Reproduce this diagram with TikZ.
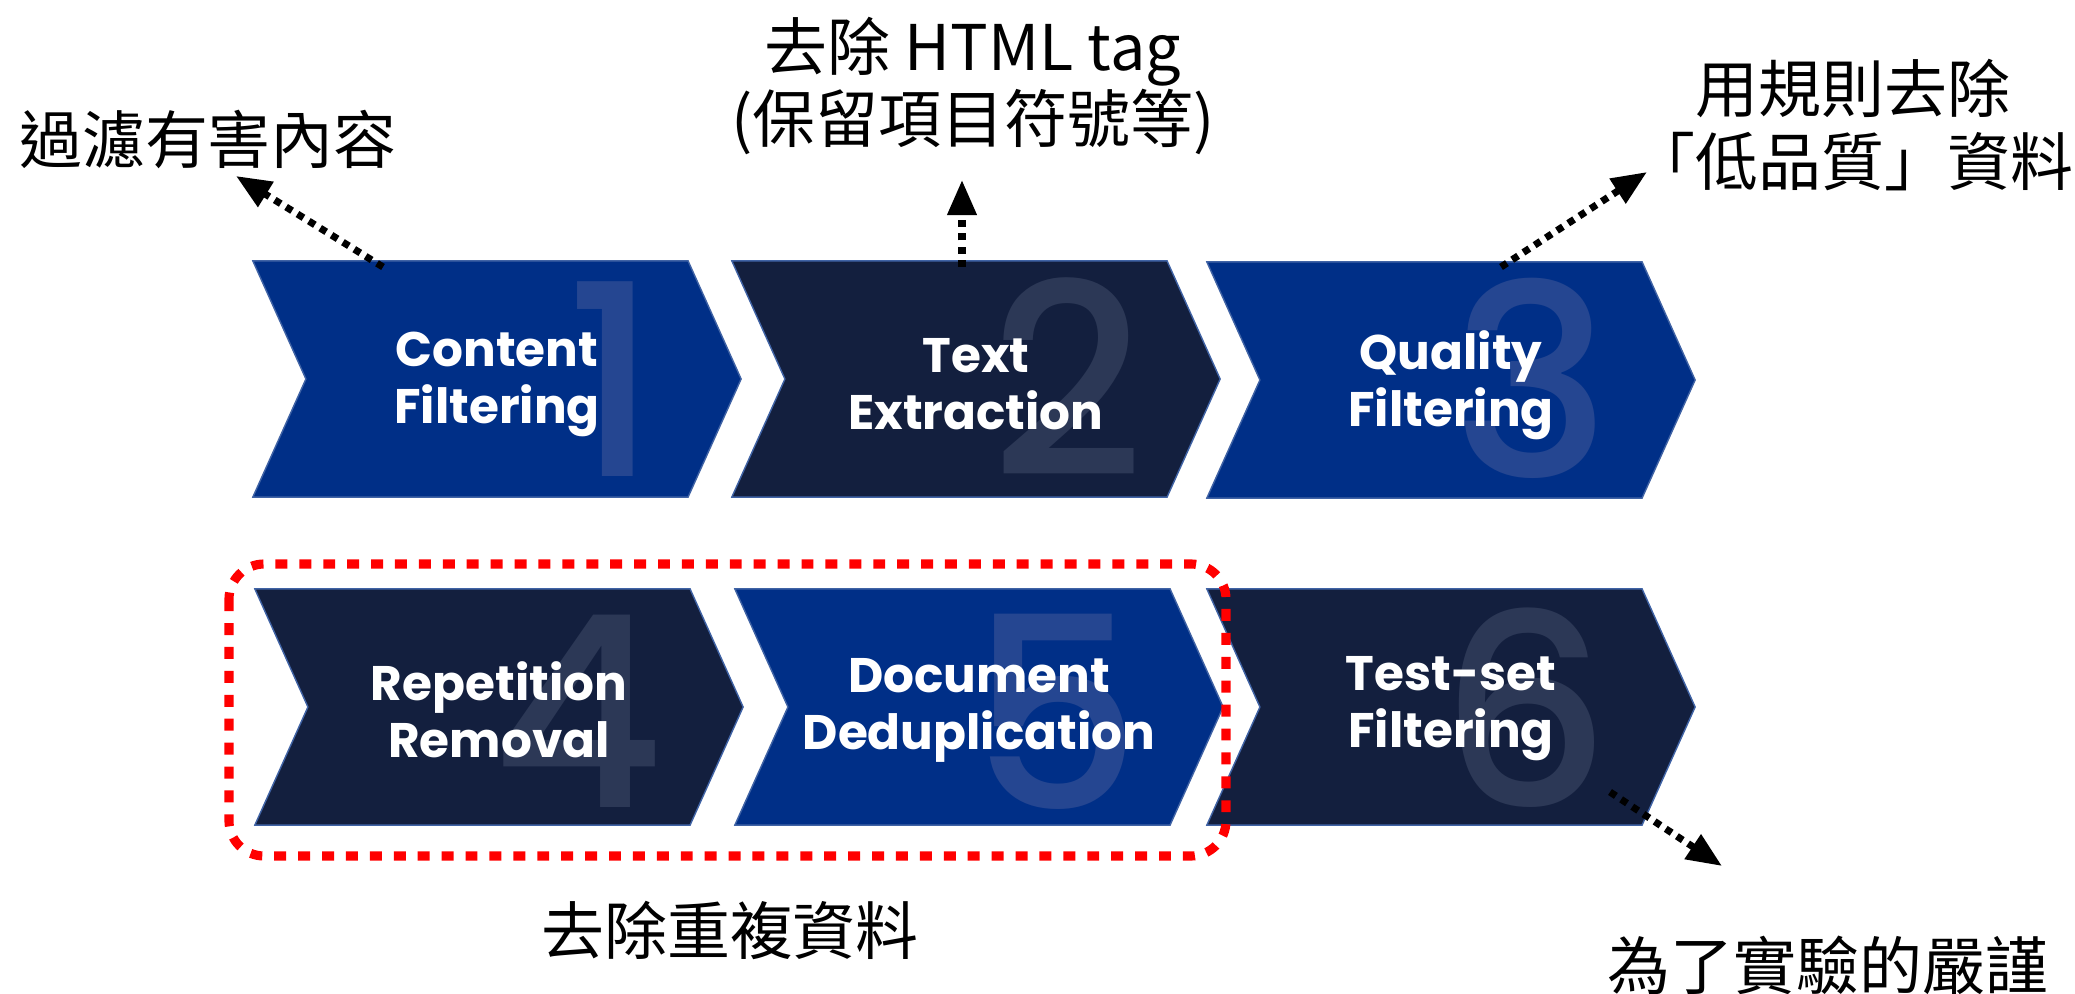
\documentclass[tikz,border=0pt]{standalone}
\usepackage{fontspec}
\usepackage{tikz}
\usetikzlibrary{shapes.symbols,arrows.meta}
\newfontfamily\cjk{Noto Sans CJK TC}
\newfontfamily\chevfont{Poppins}
\newfontfamily\digitfont{Poppins Medium}
\definecolor{chevblue}{RGB}{0,47,135}
\definecolor{chevnavy}{RGB}{19,31,62}
\definecolor{digblue}{RGB}{37,70,145}
\definecolor{dignavy}{RGB}{44,56,86}

\begin{document}
\begin{tikzpicture}[x=0.01cm, y=-0.01cm,
  chev/.style={signal, signal to=east, signal from=west, signal pointer angle=131.6, minimum width=4.88cm, minimum height=2.36cm, inner sep=0pt, outer sep=0pt, fill=#1, draw=chevblue!75!white, line width=0.4pt},
  digit/.style={anchor=base east, inner sep=0pt, text=#1, font=\digitfont\fontsize{76}{76}\selectfont},
  step text/.style={text=white, align=center, font=\chevfont\bfseries\fontsize{13.8}{16.2}\selectfont},
  note/.style={align=center, font=\cjk\fontsize{17.9}{20.7}\selectfont},
  callout/.style={-{Triangle[length=10pt,width=8pt]}, line width=2pt, dash pattern=on 2pt off 1.8pt},
  dupbox/.style={draw=red, line width=2.6pt, dash pattern=on 3.4pt off 3.4pt, rounded corners=10pt}]
  \useasboundingbox (0,0) rectangle (2075,994);

  % top row
  \node[chev=chevblue] (c1) at (497,379) {};
  \node[chev=chevnavy] (c2) at (976,379) {};
  \node[chev=chevblue] (c3) at (1451,380) {};
  \node[digit=digblue] (n1) at (660,476) {1};
  \node[digit=dignavy] (n2) at (1145,476) {2};
  \node[digit=digblue] (n3) at (1612,477) {3};
  \node[step text] (t1) at ([yshift=-0.05cm]c1.center) {Content\\Filtering};
  \node[step text] (t2) at ([yshift=-0.05cm]c2.center) {Text\\Extraction};
  \node[step text] (t3) at ([yshift=-0.05cm]c3.center) {Quality\\Filtering};

  % bottom row
  \node[chev=chevnavy] (c4) at (499,707) {};
  \node[chev=chevblue] (c5) at (979,707) {};
  \node[chev=chevnavy] (c6) at (1451,707) {};
  \node[digit=dignavy] (n4) at (665,807) {4};
  \node[digit=digblue] (n5) at (1142,809) {5};
  \node[digit=dignavy] (n6) at (1612,807) {6};
  \node[step text] (t4) at ([yshift=-0.03cm]c4.center) {Repetition\\Removal};
  \node[step text] (t5) at ([yshift=-0.03cm]c5.center) {Document\\Deduplication};
  \node[step text] (t6) at ([yshift=-0.02cm]c6.center) {Test-set\\Filtering};

  \draw[dupbox] (229,564) rectangle (1226,856);

  % notes
  \node[note] (l1) at (208,139) {過濾有害內容};
  \node[note] (l2) at (973,86) {去除 HTML tag\\(保留項目符號等)};
  \node[note] (l3) at (1853,125) {用規則去除\\「低品質」資料};
  \node[note] (l5) at (730,930) {去除重複資料};
  \node[note] (l6) at (1828,965) {為了實驗的嚴謹};

  \coordinate (a1) at (383,267); \coordinate (b1) at (236,176);
  \coordinate (a2) at (962,267); \coordinate (b2) at (962,180);
  \coordinate (a3) at (1501,267); \coordinate (b3) at (1647,172);
  \coordinate (a6) at (1610,792); \coordinate (b6) at (1722,866);
  \draw[callout] (a1) -- (b1);
  \draw[callout] (a2) -- (b2);
  \draw[callout] (a3) -- (b3);
  \draw[callout] (a6) -- (b6);
\end{tikzpicture}
\end{document}
